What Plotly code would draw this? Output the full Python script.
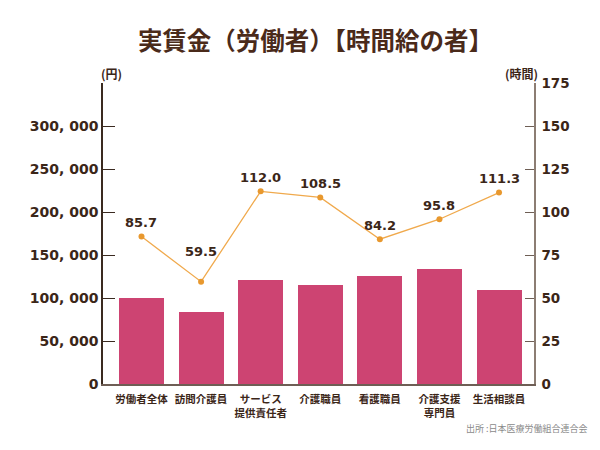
import plotly.graph_objects as go

categories = ["労働者全体", "訪問介護員", "サービス<br>提供責任者", "介護職員", "看護職員", "介護支援<br>専門員", "生活相談員"]
wages = [100000, 84000, 120500, 115000, 125500, 134000, 109500]
hours = [85.7, 59.5, 112.0, 108.5, 84.2, 95.8, 111.3]
left_ticks = [0, 50000, 100000, 150000, 200000, 250000, 300000]
right_ticks = [0, 25, 50, 75, 100, 125, 150, 175]

TXT = "#3B2618"
CJK = "Noto Sans CJK JP"
NUM = "DejaVu Sans"

# label offsets (px) above each point
label_shift = [14, 30, 14, 14, 14, 14, 14]

x = list(range(len(categories)))

# page body has an 8px margin, so figure coords = screen coords - 8
OFF = 8
L, R, T, B = 103 - OFF, 600 - 534 + OFF, 83 - OFF, 450 - 384.5 + OFF
W_PLOT = 600 - L - R
H_PLOT = 450 - T - B


def px(sx):
    return (sx - OFF - L) / W_PLOT


def py(sy):
    return (450 - (sy - OFF) - B) / H_PLOT


fig = go.Figure()
fig.add_trace(go.Bar(
    x=x, y=wages, marker=dict(color="#CD4472", line=dict(width=0)),
    width=0.755, yaxis="y", showlegend=False,
))
fig.add_trace(go.Scatter(
    x=x, y=hours, yaxis="y2", mode="lines+markers",
    line=dict(color="#F0A94C", width=1.3),
    marker=dict(color="#E8982E", size=6),
    showlegend=False, cliponaxis=False,
))

annotations = [
    dict(text=f"<b>{v:.1f}</b>", x=xi, y=v, xref="x", yref="y2",
         yshift=s, xanchor="center", yanchor="middle", showarrow=False,
         font=dict(family=NUM, size=13, color=TXT))
    for xi, v, s in zip(x, hours, label_shift)
]
annotations += [
    dict(text="<b>(円)</b>", xref="paper", yref="paper", x=px(111), y=py(73),
         xanchor="center", yanchor="middle", showarrow=False,
         font=dict(family=CJK, size=12, color=TXT)),
    dict(text="<b>(時間)</b>", xref="paper", yref="paper", x=px(521), y=py(73),
         xanchor="center", yanchor="middle", showarrow=False,
         font=dict(family=CJK, size=12, color=TXT)),
    dict(text="出所 :日本医療労働組合連合会", xref="paper", yref="paper", x=px(590), y=py(429),
         xanchor="right", yanchor="middle", showarrow=False,
         font=dict(family=CJK, size=9, color="#8A8A8A")),
]

fig.update_layout(
    width=600, height=450,
    margin=dict(l=L, r=R, t=T, b=B, autoexpand=False),
    paper_bgcolor="white", plot_bgcolor="white",
    bargap=0,
    title=dict(text="<b>実賃金（労働者）【時間給の者】</b>", x=(315.5 - OFF) / 600, xanchor="center",
               y=1 - (41 - OFF) / 450, yanchor="middle",
               font=dict(family=CJK, size=24.5, color="#4A2A1A")),
    xaxis=dict(
        range=[-0.646, 6.587], tickmode="array", tickvals=x, ticktext=categories,
        showline=True, linecolor="#6E5E55", linewidth=1.5,
        ticks="", showgrid=False, zeroline=False, automargin=False,
        ticklabelstandoff=5,
        tickfont=dict(family=CJK, size=10.5, color=TXT, weight="bold"),
    ),
    yaxis=dict(
        range=[0, 350000], tickmode="array", tickvals=left_ticks,
        ticktext=[f"{v:,}".replace(",", ", ") for v in left_ticks],
        showline=True, linecolor="#3A2A20", linewidth=1.5,
        ticks="inside", ticklen=12, tickcolor="#3A2A20", tickwidth=1.2,
        showgrid=False, zeroline=False, automargin=False,
        tickfont=dict(family=NUM, size=14, color=TXT, weight="bold"),
    ),
    yaxis2=dict(
        range=[0, 175], tickmode="array", tickvals=right_ticks,
        overlaying="y", side="right",
        showline=True, linecolor="#8C7D73", linewidth=1.5,
        ticks="inside", ticklen=9, tickcolor="#6E5E55", tickwidth=1.2,
        showgrid=False, zeroline=False, automargin=False,
        ticklabelstandoff=3,
        tickfont=dict(family=NUM, size=13.5, color=TXT, weight="bold"),
    ),
    annotations=annotations,
)

fig.write_html("out.html")
